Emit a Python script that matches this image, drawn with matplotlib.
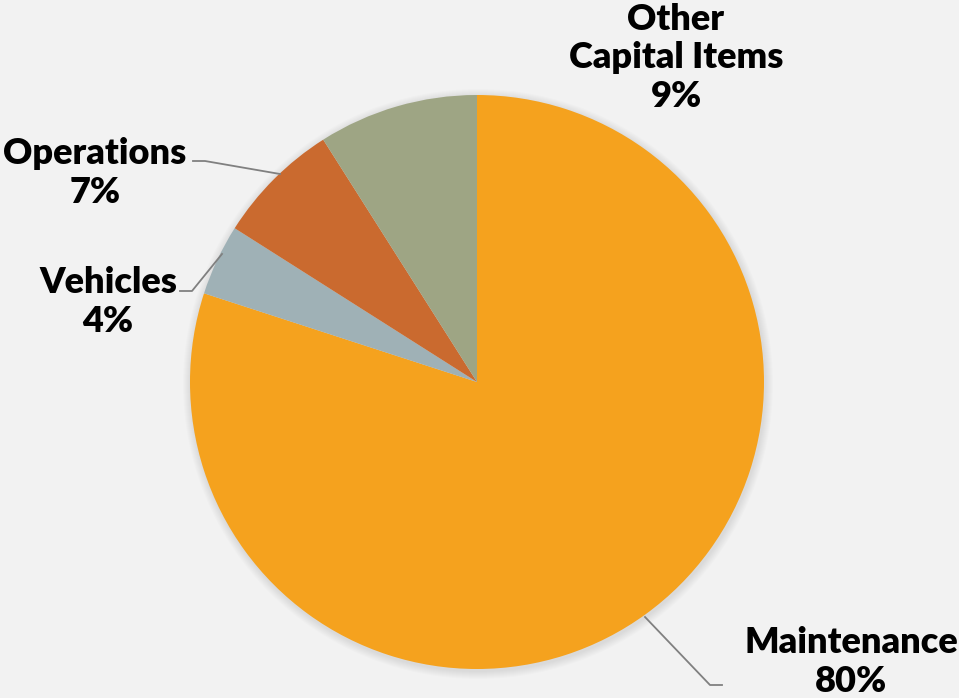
import matplotlib.pyplot as plt
from matplotlib.patches import Circle

labels = ['Maintenance', 'Vehicles', 'Operations', 'Other\nCapital Items']
values = [80, 4, 7, 9]
colors = ['#F5A21E', '#9FB1B6', '#CA6A2F', '#9EA584']

W, H = 959, 698
cx, cy, r = 477, H - 382, 287

fig = plt.figure(figsize=(W / 100, H / 100), dpi=100)
fig.patch.set_facecolor('#F2F2F2')
ax = fig.add_axes([0, 0, 1, 1])

# soft shadow under the pie
for i in range(8):
    ax.add_patch(Circle((cx + 1, cy - 2), r + 8 - i, color='black', alpha=0.012, lw=0, zorder=0))

wedges, _ = ax.pie(values, colors=colors, startangle=90, counterclock=False,
                   center=(cx, cy), radius=r, frame=True,
                   wedgeprops=dict(linewidth=0))
ax.set_xlim(0, W)
ax.set_ylim(0, H)
ax.set_aspect('equal')
ax.axis('off')

font = dict(family=['Lato', 'DejaVu Sans'], fontsize=26, fontweight='heavy',
            color='black', ha='center', va='center', linespacing=1.22)

# label positions (pixels from top)
pos = [(851, 662), (108, 302), (95, 173), (676, 58)]
for lab, v, (x, y) in zip(labels, values, pos):
    ax.text(x, H - y, f'{lab}\n{v}%', **font)

# leader lines
line = dict(color='#808080', lw=1.3)
ax.plot([193, 205, 280], [H - 161, H - 161, H - 174], **line)
ax.plot([180, 192, 222], [H - 291, H - 291, H - 254], **line)
ax.plot([722, 710, 645], [H - 685, H - 685, H - 617], **line)

plt.savefig('out.png', dpi=100, facecolor=fig.get_facecolor())
